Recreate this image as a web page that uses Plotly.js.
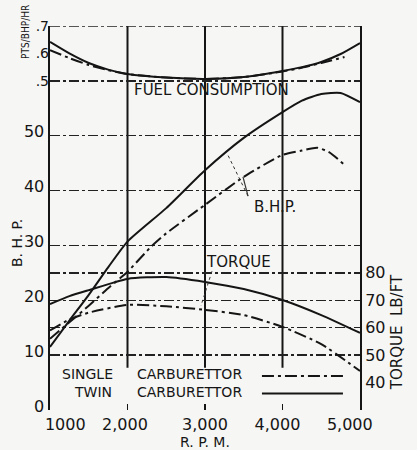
<!DOCTYPE html>
<html>
<head>
<meta charset="utf-8">
<script src="https://cdn.plot.ly/plotly-3.0.1.min.js"></script>
<style>html,body{margin:0;padding:0;background:#f6f6f4;}</style>
</head>
<body>
<div id="chart" style="width:417px;height:450px;"></div>
<script>
// ---- data ----
const rpmTwin = [1000,1250,1500,1750,2000,2500,3000,3500,4000,4250,4500,4750,5000];
const bhpTwin = [11.5,16.3,21,26,30.7,36.8,43.7,49.6,54.3,56.4,57.6,57.8,56.1];
const rpmSingleBhp = [1000,1250,1500,1750,2000,2300,2500,3000,3500,4000,4250,4450,4600,4800];
const bhpSingle = [13,16,19,22.2,25.2,29.7,32.2,37.4,42.5,46.5,47.3,47.8,47.0,44.7];
const rpmTorque = [1000,1250,1500,2000,2500,3000,3500,4000,4500,5000];
const torqueTwin = [68.6,71.5,73.7,77.8,78.5,76.7,74.1,70.1,64.6,58.1];
const torqueSingle = [59,63,65.5,68.3,67.8,66.5,64.6,60.3,54,44.2];
const rpmFuelTwin = [1000,1250,1500,1750,2000,2500,3000,3500,4000,4250,4500,4750,5000];
const fuelTwin = [0.642,0.600,0.565,0.541,0.525,0.512,0.507,0.514,0.536,0.550,0.569,0.598,0.638];
const rpmFuelSingle = [1000,1250,1500,1750,2000,2500,3000,3500,4000,4250,4500,4800];
const fuelSingle = [0.612,0.583,0.558,0.539,0.525,0.512,0.507,0.514,0.534,0.548,0.565,0.587];

const rpmTicks = [1000,2000,3000,4000,5000];
const rpmTickText = ['\u00a0\u00a0\u00a0\u00a0\u00a0\u00a01000','2,000\u00a0','3,000','4,000\u00a0\u00a0','5,000\u00a0\u00a0\u00a0\u00a0'];
const bhpTicks = [0,10,15,20,25,30,40,50,60,70];
const bhpTickText = ['0','10','','20','','30','40','50','',''];
const torqueTicks = [40,50,60,70,80];
const fuelTicks = [0.5,0.6,0.7];
const fuelTickText = ['.5','.6','.7'];

const INK = '#151515';
const DASHDOT = '12px,4px,3px,4px';
const GRIDDASH = '10px,3px,3px,3px';

function line(x, y, yaxis, dashed) {
  return {x: x, y: y, yaxis: yaxis, type: 'scatter', mode: 'lines',
    line: {color: INK, width: 2, shape: 'spline', smoothing: 0.6, dash: dashed ? DASHDOT : 'solid'},
    hoverinfo: 'skip'};
}

const traces = [
  line(rpmFuelTwin, fuelTwin, 'y3', false),
  line(rpmFuelSingle, fuelSingle, 'y3', true),
  line(rpmTwin, bhpTwin, 'y', false),
  line(rpmSingleBhp, bhpSingle, 'y', true),
  line(rpmTorque, torqueTwin, 'y2', false),
  line(rpmTorque, torqueSingle, 'y2', true)
];

const shapes = [];
[2000,3000,4000].forEach(function(v){
  shapes.push({type:'line', xref:'x', yref:'y', x0:v, x1:v, y0:7.7, y1:70, line:{color:INK, width:2}, layer:'below'});
});
// top border (dashed, as in the reference)
shapes.push({type:'line', xref:'x', yref:'y', x0:1000, x1:5000, y0:70, y1:70, line:{color:'#222', width:1.5, dash:GRIDDASH}, layer:'below'});
// pointer lines
shapes.push({type:'line', xref:'x', yref:'y', x0:3555, y0:39.0, x1:3284, y1:46.8, line:{color:'#333', width:1, dash:'dot'}});
shapes.push({type:'line', xref:'x', yref:'y', x0:3555, y0:39.0, x1:3490, y1:42.5, line:{color:'#333', width:1.2}});
shapes.push({type:'line', xref:'x', yref:'y', x0:3090, y0:25.3, x1:2948, y1:19.0, line:{color:'#333', width:1, dash:'dot'}});
// legend swatches
shapes.push({type:'line', xref:'x', yref:'y', x0:3735, x1:4780, y0:6.2, y1:6.2, line:{color:INK, width:2, dash:DASHDOT}});
shapes.push({type:'line', xref:'x', yref:'y', x0:3735, x1:4780, y0:3.0, y1:3.0, line:{color:INK, width:2}});

const txt = {family:'DejaVu Sans', size:15, color:INK};
const lg = {family:'DejaVu Sans', size:14, color:INK};
function ann(text, x, y, font, extra) {
  return Object.assign({text:text, x:x, y:y, xref:'x', yref:'y', xanchor:'center', yanchor:'middle', showarrow:false, font:font}, extra || {});
}
const annotations = [
  ann('FUEL CONSUMPTION', 2058, 58.3, txt, {xanchor:'left'}),
  ann('B.H.P.', 3900, 37, txt),
  ann('TORQUE', 3426, 27, txt),
  ann('SINGLE', 1490, 6.5, lg),
  ann('CARBURETTOR', 2806, 6.5, lg),
  ann('TWIN', 1555, 3.3, lg),
  ann('CARBURETTOR', 2806, 3.3, lg),
  {text:'PTS/BHP/HR', x:-0.077, y:0.985, xref:'paper', yref:'paper', xanchor:'center', yanchor:'middle', textangle:-90, showarrow:false,
   font:{family:'Liberation Sans Narrow, DejaVu Sans Condensed, DejaVu Sans', size:10, color:INK}},
  {text:'B. H. P.', x:-0.106, y:0.435, xref:'paper', yref:'paper', xanchor:'center', yanchor:'middle', textangle:-90, showarrow:false,
   font:{family:'DejaVu Sans', size:14, color:INK}},
  {text:'TORQUE  LB/FT', x:1.12, y:0.203, xref:'paper', yref:'paper', xanchor:'center', yanchor:'middle', textangle:-90, showarrow:false,
   font:{family:'DejaVu Sans', size:15, color:INK}}
];

const layout = {
  width:417, height:450,
  margin:{l:50, r:57, t:26, b:40},
  paper_bgcolor:'#f6f6f4', plot_bgcolor:'rgba(0,0,0,0)',
  showlegend:false,
  font:{family:'DejaVu Sans', color:INK, size:15},
  xaxis:{range:[1000,5000], tickmode:'array', tickvals:rpmTicks, ticktext:rpmTickText,
    ticks:'inside', ticklen:6, tickwidth:1.5, tickcolor:INK, ticklabelstandoff:3,
    showgrid:false, zeroline:false, showline:false, tickfont:{size:16},
    title:{text:'R. P. M.', font:{size:14}, standoff:4}},
  yaxis:{domain:[0,1], range:[0,70], tickmode:'array', tickvals:bhpTicks, ticktext:bhpTickText,
    ticks:'', showgrid:true, gridcolor:'#222', gridwidth:1.5, griddash:GRIDDASH, ticklabelshift:-4,
    zeroline:false, showline:true, linewidth:2.5, linecolor:INK, tickfont:{size:16}},
  yaxis2:{overlaying:'y', side:'right', range:[30,170], tickmode:'array', tickvals:torqueTicks,
    ticks:'', showgrid:false, zeroline:false, showline:true, linewidth:2, linecolor:INK,
    tickfont:{size:16}},
  yaxis3:{domain:[60/70,1], anchor:'x', range:[0.5,0.7], side:'left', tickmode:'array',
    tickvals:fuelTicks, ticktext:fuelTickText, ticks:'', showgrid:false, zeroline:false, showline:false,
    tickfont:{size:14}},
  shapes:shapes,
  annotations:annotations
};

Plotly.newPlot('chart', traces, layout, {staticPlot:true, displayModeBar:false});
</script>
</body>
</html>
